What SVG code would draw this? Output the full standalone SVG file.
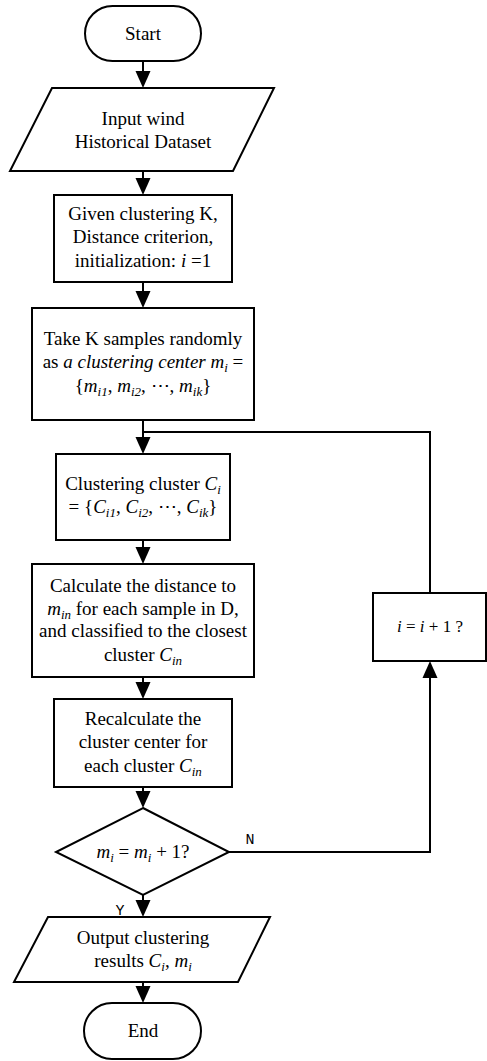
<svg xmlns="http://www.w3.org/2000/svg" width="487" height="1061" viewBox="0 0 487 1061">
<style>
.s{fill:#fff;stroke:#000;stroke-width:2}
.c{fill:none;stroke:#000;stroke-width:2}
text{font-family:"Liberation Serif","Times New Roman",serif;font-size:19px;fill:#000;text-anchor:middle}
.it{font-style:italic}
.sb{font-size:13px;font-style:italic}
.lb{font-family:"Liberation Mono","DejaVu Sans Mono",monospace;font-size:15px}
</style>
<defs>
<marker id="ah" markerUnits="userSpaceOnUse" markerWidth="18" markerHeight="16" viewBox="0 -8 18 16" refX="14" refY="0" orient="auto">
<path d="M0,-7.5 L17,0 L0,7.5 z" fill="#000"/>
</marker>
</defs>
<rect width="487" height="1061" fill="#fff"/>
<g id="connectors">
<line class="c" x1="143" y1="61" x2="143" y2="85" marker-end="url(#ah)"/>
<line class="c" x1="143" y1="171" x2="143" y2="192" marker-end="url(#ah)"/>
<line class="c" x1="143" y1="282" x2="143" y2="305" marker-end="url(#ah)"/>
<line class="c" x1="143" y1="420" x2="143" y2="451" marker-end="url(#ah)"/>
<line class="c" x1="143" y1="540" x2="143" y2="561" marker-end="url(#ah)"/>
<line class="c" x1="143" y1="677" x2="143" y2="696" marker-end="url(#ah)"/>
<line class="c" x1="143" y1="787" x2="143" y2="805" marker-end="url(#ah)"/>
<line class="c" x1="143" y1="895" x2="143" y2="914" marker-end="url(#ah)"/>
<line class="c" x1="143" y1="982" x2="143" y2="1000" marker-end="url(#ah)"/>
<polyline class="c" points="229,852 430,852 430,664" marker-end="url(#ah)"/>
<polyline class="c" points="430,593 430,432 143,432"/>
<text class="lb" x="250" y="844">N</text>
<text class="lb" x="120" y="915">Y</text>
</g>
<g id="start">
<rect class="s" x="85" y="6" width="116" height="55" rx="27.5"/>
<text x="143" y="40">Start</text>
</g>
<g id="input">
<polygon class="s" points="52,88 274,88 233,171 10,171"/>
<text x="143" y="125">Input wind</text>
<text x="143" y="148">Historical Dataset</text>
</g>
<g id="given">
<rect class="s" x="54" y="195" width="178" height="87"/>
<text x="143" y="220">Given clustering K,</text>
<text x="143" y="243">Distance criterion,</text>
<text x="143" y="267">initialization: <tspan class="it">i</tspan> =1</text>
</g>
<g id="take">
<rect class="s" x="32" y="308" width="222" height="112"/>
<text x="143" y="345">Take K samples randomly</text>
<text x="143" y="368">as <tspan class="it">a clustering center m</tspan><tspan class="sb" dy="4">i</tspan><tspan dy="-4"> =</tspan></text>
<text x="143" y="392">{<tspan class="it">m</tspan><tspan class="sb" dy="4">i1</tspan><tspan dy="-4">, </tspan><tspan class="it">m</tspan><tspan class="sb" dy="4">i2</tspan><tspan dy="-4">, ⋯, </tspan><tspan class="it">m</tspan><tspan class="sb" dy="4">ik</tspan><tspan dy="-4">}</tspan></text>
</g>
<g id="cluster">
<rect class="s" x="56" y="454" width="174" height="86"/>
<text x="143" y="490">Clustering cluster <tspan class="it">C</tspan><tspan class="sb" dy="4">i</tspan></text>
<text x="143" y="513">= {<tspan class="it">C</tspan><tspan class="sb" dy="4">i1</tspan><tspan dy="-4">, </tspan><tspan class="it">C</tspan><tspan class="sb" dy="4">i2</tspan><tspan dy="-4">, ⋯, </tspan><tspan class="it">C</tspan><tspan class="sb" dy="4">ik</tspan><tspan dy="-4">}</tspan></text>
</g>
<g id="calculate">
<rect class="s" x="32" y="564" width="222" height="113"/>
<text x="143" y="592">Calculate the distance to</text>
<text x="143" y="615"><tspan class="it">m</tspan><tspan class="sb" dy="4">in</tspan><tspan dy="-4">  for each sample in D,</tspan></text>
<text x="143" y="637">and classified to the closest</text>
<text x="143" y="661">cluster <tspan class="it">C</tspan><tspan class="sb" dy="4">in</tspan></text>
</g>
<g id="recalculate">
<rect class="s" x="54" y="699" width="178" height="88"/>
<text x="143" y="725">Recalculate the</text>
<text x="143" y="748">cluster center for</text>
<text x="143" y="772">each cluster <tspan class="it">C</tspan><tspan class="sb" dy="4">in</tspan></text>
</g>
<g id="decision">
<polygon class="s" points="143,808 229,852 143,895 56,852"/>
<text x="143" y="858"><tspan class="it">m</tspan><tspan class="sb" dy="4">i</tspan><tspan dy="-4"> = </tspan><tspan class="it">m</tspan><tspan class="sb" dy="4">i</tspan><tspan dy="-4"> + 1?</tspan></text>
</g>
<g id="increment">
<rect class="s" x="373" y="593" width="113" height="68"/>
<text x="430" y="632" style="font-size:17px"><tspan class="it">i</tspan> = <tspan class="it">i</tspan> + 1 ?</text>
</g>
<g id="output">
<polygon class="s" points="48,917 270,917 238,982 14,982"/>
<text x="143" y="944">Output clustering</text>
<text x="143" y="967">results <tspan class="it">C</tspan><tspan class="sb" dy="4">i</tspan><tspan dy="-4">, </tspan><tspan class="it">m</tspan><tspan class="sb" dy="4">i</tspan></text>
</g>
<g id="end">
<rect class="s" x="84" y="1003" width="117" height="56" rx="28"/>
<text x="143" y="1037">End</text>
</g>
</svg>
